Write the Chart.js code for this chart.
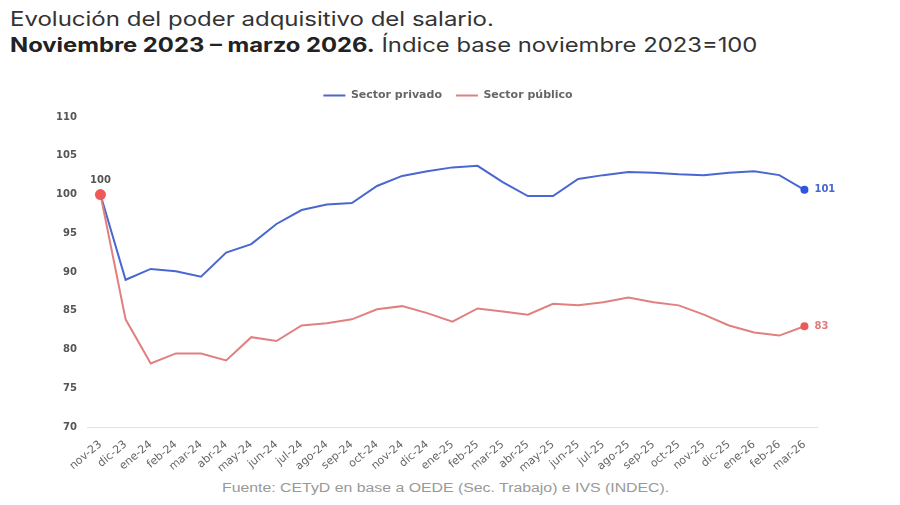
<!DOCTYPE html>
<html>
<head>
<meta charset="utf-8">
<script src="https://cdn.jsdelivr.net/npm/chart.js@4"></script>
<style>
  body { margin:0; background:#fff; font-family: Inter, "Open Sans", sans-serif; }
  #wrap { position:relative; width:900px; height:505px; overflow:hidden; }
  .t { position:absolute; left:10px; font-size:20px; color:#333; white-space:nowrap; transform-origin:left center; }
  .t1 { top:7px; transform:scaleX(1.2); }
  .t2 { top:33px; transform:scaleX(1.19); }
  .t2 b { font-weight:700; color:#222; }
  #box { position:absolute; left:0; top:76px; width:900px; height:402px; }
  .src { position:absolute; left:222px; top:481px; font-family: "Liberation Sans", Arial, sans-serif; font-size:12px; color:#999; white-space:nowrap; transform-origin:left center; transform:scaleX(1.32); }
</style>
</head>
<body>
<div id="wrap">
  <div class="t t1">Evolución del poder adquisitivo del salario.</div>
  <div class="t t2"><b>Noviembre 2023 – marzo 2026.</b> Índice base noviembre 2023=100</div>
  <div id="box"><canvas id="c"></canvas></div>
  <div class="src">Fuente: CETyD en base a OEDE (Sec. Trabajo) e IVS (INDEC).</div>
</div>
<script>
const months = ['nov-23','dic-23','ene-24','feb-24','mar-24','abr-24','may-24','jun-24','jul-24','ago-24','sep-24','oct-24',
  'nov-24','dic-24','ene-25','feb-25','mar-25','abr-25','may-25','jun-25','jul-25','ago-25','sep-25','oct-25',
  'nov-25','dic-25','ene-26','feb-26','mar-26'];
const privado = [100, 89.0, 90.4, 90.1, 89.4, 92.5, 93.6, 96.2, 98.0, 98.7, 98.9, 101.1,
  102.4, 103.0, 103.5, 103.7, 101.6, 99.8, 99.8, 102.0, 102.5, 102.9, 102.8, 102.6,
  102.5, 102.8, 103.0, 102.5, 100.6];
const publico = [100, 83.9, 78.2, 79.5, 79.5, 78.6, 81.6, 81.1, 83.1, 83.4, 83.9, 85.2,
  85.6, 84.7, 83.6, 85.3, 84.9, 84.5, 85.9, 85.7, 86.1, 86.7, 86.1, 85.7,
  84.5, 83.1, 82.2, 81.8, 83.0];
const yTicks = [70, 75, 80, 85, 90, 95, 100, 105, 110];

const FONT = '"DejaVu Sans", Verdana, sans-serif';
const last = months.length - 1;
const radii = (first) => months.map((m, i) => i === last ? 4 : (i === 0 ? first : 0));

// etiquetas de valor: 100 al inicio y valores finales
const valueLabels = {
  id: 'valueLabels',
  afterDatasetsDraw(chart) {
    const ctx = chart.ctx;
    ctx.save();
    ctx.font = 'bold 10px ' + FONT;
    ctx.textBaseline = 'middle';
    chart.data.datasets.forEach((ds, di) => {
      const meta = chart.getDatasetMeta(di);
      const pEnd = meta.data[last];
      ctx.fillStyle = ds.labelColor;
      ctx.textAlign = 'left';
      ctx.fillText(Math.round(ds.data[last]), pEnd.x + 10, pEnd.y);
      if (di === 1) {
        const p0 = meta.data[0];
        ctx.fillStyle = '#555';
        ctx.textAlign = 'center';
        ctx.fillText(Math.round(ds.data[0]), p0.x, p0.y - 14);
      }
    });
    ctx.restore();
  }
};

// espacio extra bajo la leyenda y leyenda algo más a la derecha
const legendGap = {
  id: 'legendGap',
  beforeInit(chart) {
    const fit = chart.legend.fit;
    chart.legend.fit = function () { fit.call(this); this.height += 6; };
  },
  afterLayout(chart) {
    chart.legend.left += 13;
    chart.legend.right += 13;
  }
};

new Chart(document.getElementById('c'), {
  type: 'line',
  data: {
    labels: months,
    datasets: [
      { label: 'Sector privado', data: privado, borderColor: '#4a67d0', backgroundColor: '#2d55dd',
        borderWidth: 2, pointRadius: radii(0), pointBorderWidth: 0, tension: 0, order: 1, labelColor: '#4a67d0' },
      { label: 'Sector público', data: publico, borderColor: '#e08080', backgroundColor: '#ee5a5a',
        borderWidth: 2, pointRadius: radii(5.5), pointBorderWidth: 0, tension: 0, order: 0, labelColor: '#e07a7a' }
    ]
  },
  options: {
    responsive: true,
    maintainAspectRatio: false,
    animation: false,
    layout: { padding: { left: 53, right: 83, top: 0, bottom: 0 } },
    plugins: {
      legend: {
        position: 'top',
        labels: {
          sort: (a, b) => a.datasetIndex - b.datasetIndex,
          generateLabels: (chart) => Chart.defaults.plugins.legend.labels.generateLabels(chart).map(l => {
            const ds = chart.data.datasets[l.datasetIndex];
            return { ...l, lineWidth: 2, strokeStyle: ds.borderColor };
          }),
          usePointStyle: true, pointStyle: 'line', pointStyleWidth: 22,
          color: '#666', font: { family: FONT, size: 11, weight: 'bold' },
          padding: 14
        }
      },
      tooltip: { enabled: false }
    },
    scales: {
      x: {
        offset: true,
        grid: { display: false },
        border: { color: '#e2e2e2', width: 1 },
        ticks: { maxRotation: 40, minRotation: 40, autoSkip: false, color: '#666',
          font: { family: FONT, size: 11 } }
      },
      y: {
        min: 70, max: 110,
        afterBuildTicks: (s) => { s.ticks = yTicks.map(v => ({ value: v })); },
        grid: { display: false },
        border: { display: false },
        ticks: { color: '#555', padding: 3, font: { family: FONT, size: 10, weight: 'bold' } }
      }
    }
  },
  plugins: [valueLabels, legendGap]
});
</script>
</body>
</html>
